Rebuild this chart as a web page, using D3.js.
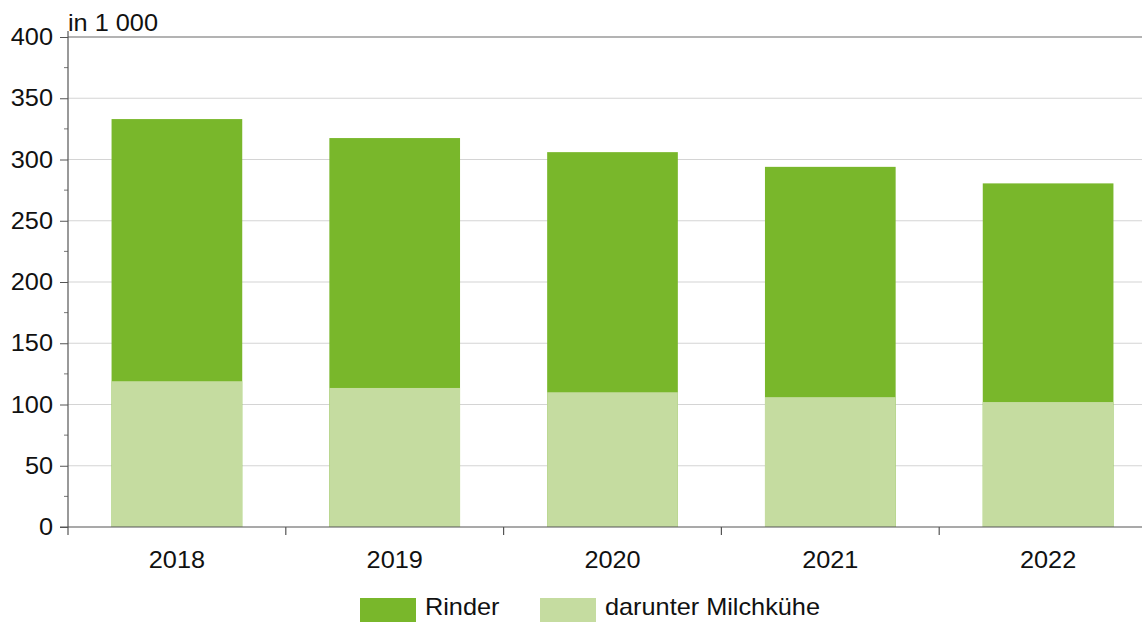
<!DOCTYPE html>
<html>
<head>
<meta charset="utf-8">
<script src="https://cdn.jsdelivr.net/npm/d3@7"></script>
<style>
  body { margin: 0; background: #fff; }
  text { font-family: "Liberation Sans", Arial, sans-serif; }
</style>
</head>
<body>
<script>
// data (in 1 000)
let years = ["2018", "2019", "2020", "2021", "2022"];
let rinder = [333, 317.5, 306, 294, 280.5];
let milchkuehe = [119, 113.5, 110, 106, 102];
let y_ticks = [0, 50, 100, 150, 200, 250, 300, 350, 400];
let series_names = ["Rinder", "darunter Milchkühe"];
let colors = ["#79b72b", "#c5dca0"];

let width = 1142, height = 622;
let margin = { top: 37, right: -15, bottom: 95, left: 68 };
let font_size = 23, stretch = 1.1;

let svg = d3.select("body")
  .append("svg")
    .attr("width", width)
    .attr("height", height);

// text in the original is a bit wider than the font, so stretch it
function label(g, x, y, txt, anchor) {
  return g.append("text")
    .attr("transform", `translate(${x},${y}) scale(${stretch},1)`)
    .attr("text-anchor", anchor || "start")
    .attr("font-size", font_size)
    .attr("fill", "#111")
    .text(txt);
}

let x = d3.scaleBand()
  .domain(years)
  .range([margin.left, width - margin.right])
  .paddingInner(0.4)
  .paddingOuter(0.2);

let y = d3.scaleLinear()
  .domain([0, 400])
  .range([height - margin.bottom, margin.top]);

// gridlines
svg.append("g")
  .selectAll("line")
  .data(y_ticks.filter(d => d > 0))
  .join("line")
    .attr("x1", margin.left)
    .attr("x2", width)
    .attr("y1", d => y(d))
    .attr("y2", d => y(d))
    .attr("stroke", d => d == 400 ? "#9a9a9a" : "#d4d4d4")
    .attr("stroke-width", d => d == 400 ? 1.5 : 1.2);

// bars: total first, then the subset on top
svg.append("g")
  .selectAll("rect")
  .data(rinder)
  .join("rect")
    .attr("x", (d, i) => x(years[i]))
    .attr("y", d => y(d))
    .attr("width", x.bandwidth())
    .attr("height", d => y(0) - y(d))
    .attr("fill", colors[0]);

svg.append("g")
  .selectAll("rect")
  .data(milchkuehe)
  .join("rect")
    .attr("x", (d, i) => x(years[i]))
    .attr("y", d => y(d))
    .attr("width", x.bandwidth())
    .attr("height", d => y(0) - y(d))
    .attr("fill", colors[1]);

// y axis
let y_axis = svg.append("g")
  .attr("transform", `translate(${margin.left},0)`)
  .call(d3.axisLeft(y).tickValues(y_ticks).tickSize(8).tickFormat(""));
y_axis.select(".domain").remove();
y_axis.selectAll("line").attr("stroke", "#555");

let y_labels = svg.append("g");
y_ticks.forEach(d => {
  label(y_labels, 53, y(d) + 8, d, "end");
});

// minor ticks
svg.append("g")
  .selectAll("line")
  .data(d3.range(25, 400, 50))
  .join("line")
    .attr("x1", margin.left - 4)
    .attr("x2", margin.left)
    .attr("y1", d => y(d))
    .attr("y2", d => y(d))
    .attr("stroke", "#777");

svg.append("line")
  .attr("x1", margin.left).attr("x2", margin.left)
  .attr("y1", y(400) - 6).attr("y2", y(0) + 8)
  .attr("stroke", "#555").attr("stroke-width", 1.2);

// x axis
svg.append("line")
  .attr("x1", margin.left - 8).attr("x2", width)
  .attr("y1", y(0)).attr("y2", y(0))
  .attr("stroke", "#555").attr("stroke-width", 1.2);

let step = x.step();
svg.append("g")
  .selectAll("line")
  .data(years.slice(1))
  .join("line")
    .attr("x1", d => x(d) - step * x.paddingInner() / 2)
    .attr("x2", d => x(d) - step * x.paddingInner() / 2)
    .attr("y1", y(0))
    .attr("y2", y(0) + 8)
    .attr("stroke", "#555").attr("stroke-width", 1.2);

let x_labels = svg.append("g");
years.forEach(d => {
  label(x_labels, x(d) + x.bandwidth() / 2, y(0) + 41, d, "middle");
});

// unit label
label(svg, margin.left, 31, "in 1 000");

// legend
let legend = svg.append("g");
let legend_x = [360, 540];
series_names.forEach((name, i) => {
  legend.append("rect")
    .attr("x", legend_x[i]).attr("y", 598)
    .attr("width", 56).attr("height", 24)
    .attr("fill", colors[i]);
  label(legend, legend_x[i] + 65, 615, name);
});
</script>
</body>
</html>
